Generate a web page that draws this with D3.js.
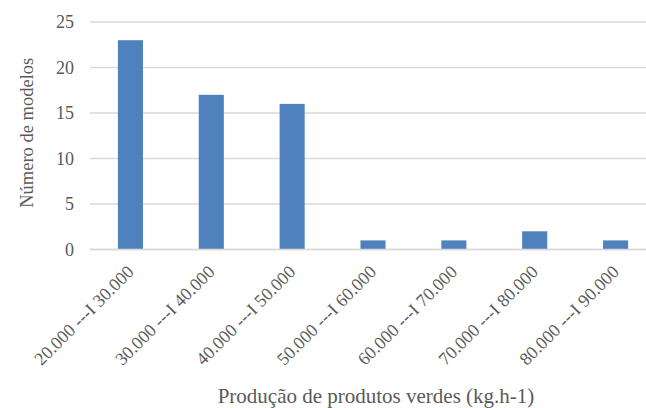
<!DOCTYPE html>
<html>
<head>
<meta charset="utf-8">
<script src="https://cdn.jsdelivr.net/npm/d3@7/dist/d3.min.js"></script>
<style>
  html, body { margin: 0; padding: 0; background: #fff; }
  svg { display: block; }
</style>
</head>
<body>
<svg id="chart" width="646" height="408"></svg>
<script>
// Production classes (kg/ha) and number of models in each
const categories = [
  "20.000 ---I 30.000",
  "30.000 ---I 40.000",
  "40.000 ---I 50.000",
  "50.000 ---I 60.000",
  "60.000 ---I 70.000",
  "70.000 ---I 80.000",
  "80.000 ---I 90.000"
];
const counts = [23, 17, 16, 1, 1, 2, 1];
const yTicks = [0, 5, 10, 15, 20, 25];

(function drawChart() {
  const FONT = "Liberation Serif";
  const TEXT_COLOR = "#595959";
  const svg = d3.select("#chart");
  const plotLeft = 90, plotRight = 656, plotTop = 22, plotBottom = 249.5;

  const x = d3.scaleBand()
    .domain(categories)
    .range([plotLeft, plotRight])
    .paddingInner(0.69)
    .paddingOuter(0.345);

  const y = d3.scaleLinear()
    .domain([0, 25])
    .range([plotBottom, plotTop]);

  // Horizontal gridlines
  svg.append("g")
    .selectAll("line")
    .data(yTicks)
    .join("line")
    .attr("x1", plotLeft)
    .attr("x2", plotRight)
    .attr("y1", d => y(d))
    .attr("y2", d => y(d))
    .attr("stroke", "#d9d9d9")
    .attr("stroke-width", 1.3);

  // Y axis labels (font set after the axis call, which writes its own defaults)
  const yAxis = svg.append("g")
    .attr("transform", `translate(${plotLeft},0)`)
    .call(d3.axisLeft(y).tickValues(yTicks).tickSize(0).tickPadding(16));
  yAxis.attr("font-family", FONT).attr("font-size", 18);
  yAxis.select(".domain").remove();
  yAxis.selectAll("text").attr("fill", TEXT_COLOR);

  // Bars
  svg.append("g")
    .selectAll("rect")
    .data(categories.map((c, i) => ({ c, v: counts[i] })))
    .join("rect")
    .attr("x", d => x(d.c))
    .attr("width", x.bandwidth())
    .attr("y", d => y(d.v))
    .attr("height", d => y(0) - y(d.v))
    .attr("fill", "#4f81bd");

  // Baseline
  svg.append("line")
    .attr("x1", plotLeft).attr("x2", plotRight)
    .attr("y1", y(0)).attr("y2", y(0))
    .attr("stroke", "#d9d9d9")
    .attr("stroke-width", 1.3);

  // X axis category labels, rotated
  const xAxis = svg.append("g")
    .attr("transform", `translate(0,${plotBottom})`)
    .call(d3.axisBottom(x).tickSize(0).tickPadding(0));
  xAxis.attr("font-family", FONT).attr("font-size", 18);
  xAxis.select(".domain").remove();
  xAxis.selectAll("text")
    .attr("fill", TEXT_COLOR)
    .attr("text-anchor", "end")
    .attr("dy", "0.35em")
    .attr("transform", "translate(0,19) rotate(-45)");

  // Axis titles
  svg.append("text")
    .attr("transform", `translate(33,${(plotTop + plotBottom) / 2 - 3}) rotate(-90)`)
    .attr("text-anchor", "middle")
    .attr("font-family", FONT)
    .attr("font-size", 18.5)
    .attr("fill", TEXT_COLOR)
    .text("Número de modelos");

  svg.append("text")
    .attr("x", 376)
    .attr("y", 403)
    .attr("text-anchor", "middle")
    .attr("font-family", FONT)
    .attr("font-size", 21)
    .attr("fill", TEXT_COLOR)
    .text("Produção de produtos verdes (kg.h-1)");
})();
</script>
</body>
</html>
